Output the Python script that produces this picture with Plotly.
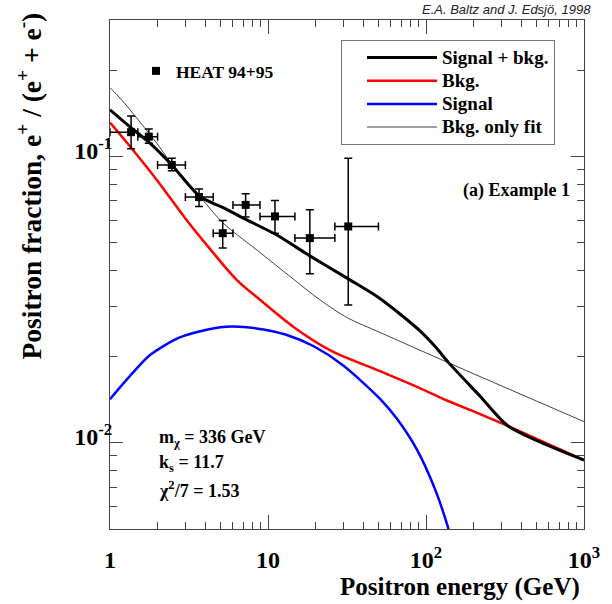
import math
import plotly.graph_objects as go

# ---------------- data ----------------
heat_E = [1.36, 1.76, 2.46, 3.66, 5.17, 7.22, 11.07, 18.4, 32.2]
heat_E_lo = [1.0, 1.5, 2.0, 3.0, 4.5, 6.0, 8.9, 14.8, 26.5]
heat_E_hi = [1.5, 2.0, 3.0, 4.5, 6.0, 8.9, 14.8, 26.5, 50.0]
heat_f = [0.1217, 0.1174, 0.0935, 0.0722, 0.0540, 0.0678, 0.0618, 0.0519, 0.0570]
heat_f_lo = [0.1064, 0.1114, 0.0892, 0.0669, 0.0479, 0.0615, 0.0540, 0.0390, 0.0303]
heat_f_hi = [0.1387, 0.1249, 0.0987, 0.0770, 0.0598, 0.0741, 0.0702, 0.0652, 0.0987]

sb_E = [1, 1.36, 1.79, 2.46, 3.71, 5.2, 7.34, 11.3, 18.4, 33, 48.8, 70, 91.6, 115, 138.5, 220, 332, 1000]
sb_f = [0.1456, 0.126, 0.1114, 0.0935, 0.0725, 0.0663, 0.0601, 0.0533, 0.045, 0.0371, 0.0325,
        0.0279, 0.0246, 0.0216, 0.0191, 0.01455, 0.01143, 0.0087]

bkg_E = [1, 1.34, 2, 3, 4.29, 6.33, 8.9, 14.8, 25, 51.2, 90, 138, 220, 332, 1000]
bkg_f = [0.1314, 0.1084, 0.0822, 0.0608, 0.0476, 0.0371, 0.0316, 0.0252, 0.021, 0.0178,
         0.0156, 0.014, 0.0126, 0.01143, 0.0087]

sig_E = [1, 1.36, 1.8, 2.74, 4.16, 5.9, 8.45, 12.9, 19.6, 29.8, 51.2, 65.3, 87.3, 114, 136, 150]
sig_f = [0.0142, 0.0173, 0.0203, 0.0233, 0.0249, 0.0255, 0.0251, 0.0239, 0.0217, 0.01867,
         0.01424, 0.01215, 0.0095, 0.00689, 0.00519, 0.00427]

fit_E = [1, 1.186, 1.975, 2.4, 3.71, 5.2, 8.45, 13.8, 21.3, 32, 51.2, 138, 340, 1000]
fit_f = [0.174, 0.1577, 0.1114, 0.0961, 0.0725, 0.0586, 0.0473, 0.0381, 0.0316, 0.0273, 0.0243,
         0.01906, 0.01535, 0.01186]

x_tickvals = [1, 10, 100, 1000]
x_ticktext = ["1", "10", "10<sup>2</sup>", "10<sup>3</sup>"]
y_tickvals = [0.01, 0.1]
y_ticktext = ["10<sup>-2</sup>", "10<sup>-1</sup>"]

# ---------------- figure ----------------
SERIF = "Liberation Serif, Times New Roman, serif"
L, R, T, B = 110, 28, 20, 75
PW, PH = 612 - L - R, 604 - T - B


def px(xp):
    return (xp - L) / PW


def py(yp):
    return (604 - B - yp) / PH


def big(s):
    return '<span style="font-size:19px">' + s + '</span>'


fig = go.Figure()
fig.add_trace(go.Scatter(x=sig_E, y=sig_f, mode="lines", name=big("Signal"),
                         line=dict(color="#0000ff", width=2.5, shape="spline", smoothing=0.8),
                         legendrank=3))
fig.add_trace(go.Scatter(x=bkg_E, y=bkg_f, mode="lines", name=big("Bkg."),
                         line=dict(color="#ff0000", width=2.5, shape="spline", smoothing=0.9),
                         legendrank=2))
fig.add_trace(go.Scatter(x=fit_E, y=fit_f, mode="lines", name=big("Bkg. only fit"),
                         line=dict(color="#111111", width=0.8, shape="spline", smoothing=0.9),
                         legendrank=4))
fig.add_trace(go.Scatter(x=sb_E, y=sb_f, mode="lines", name=big("Signal + bkg."),
                         line=dict(color="#000000", width=3, shape="spline", smoothing=0.7),
                         legendrank=1))

ex_plus = [h - e for h, e in zip(heat_E_hi, heat_E)]
ex_minus = [e - l for e, l in zip(heat_E, heat_E_lo)]
ey_plus = [h - f for h, f in zip(heat_f_hi, heat_f)]
ey_minus = [f - l for f, l in zip(heat_f, heat_f_lo)]
fig.add_trace(go.Scatter(x=heat_E, y=heat_f, mode="markers", name="HEAT 94+95",
                         marker=dict(symbol="square", size=8, color="black"),
                         error_x=dict(type="data", symmetric=False, array=ex_plus, arrayminus=ex_minus,
                                      color="black", thickness=1.5, width=4),
                         error_y=dict(type="data", symmetric=False, array=ey_plus, arrayminus=ey_minus,
                                      color="black", thickness=1.5, width=4),
                         legend="legend2"))

axis_common = dict(type="log", showgrid=False, zeroline=False, showline=True, linecolor="#444",
                   linewidth=1, mirror="ticks", ticks="inside", tickcolor="#444", tickwidth=1,
                   tickfont=dict(family=SERIF, size=24, color="black", weight="bold"))

fig.update_xaxes(range=[0, 3], tickvals=x_tickvals, ticktext=x_ticktext, ticklen=14,
                 ticklabelstandoff=9,
                 minor=dict(tickvals=[m * d for d in [1, 10, 100] for m in range(2, 10)],
                            ticks="inside", ticklen=7, tickcolor="#444", showgrid=False),
                 **axis_common)
fig.update_yaxes(range=[math.log10(0.005), math.log10(0.3)], tickvals=y_tickvals, ticktext=y_ticktext,
                 ticklen=13, ticklabelshift=-6, ticklabelstandoff=-8,
                 minor=dict(tickvals=[m * d for d in [0.001, 0.01, 0.1] for m in range(2, 10)],
                            ticks="inside", ticklen=7, tickcolor="#444", showgrid=False),
                 **axis_common)

fig.update_layout(
    width=612, height=604,
    margin=dict(l=L, r=R, t=T, b=B),
    paper_bgcolor="white", plot_bgcolor="white",
    font=dict(family=SERIF, color="black"),
    showlegend=True,
    legend=dict(x=px(341), y=py(40), xanchor="left", yanchor="top",
                bgcolor="white", bordercolor="#777", borderwidth=1,
                font=dict(family=SERIF, size=15.5, color="black", weight="bold"),
                itemwidth=70, indentation=20, tracegroupgap=0),
    legend2=dict(x=px(136), y=py(53), xanchor="left", yanchor="top",
                 bgcolor="rgba(0,0,0,0)", borderwidth=0,
                 font=dict(family=SERIF, size=17.5, color="black", weight="bold")),
)

ann_font = dict(family=SERIF, size=18, color="black", weight="bold")
fig.add_annotation(text="(a) Example 1", xref="paper", yref="paper", x=px(572), y=py(190),
                   xanchor="right", yanchor="middle", showarrow=False, font=ann_font)
fig.add_annotation(text="m<sub>χ</sub> = 336 GeV", xref="paper", yref="paper",
                   x=px(157), y=py(438), xanchor="left", yanchor="middle",
                   showarrow=False, font=ann_font)
fig.add_annotation(text="k<sub>s</sub> = 11.7", xref="paper", yref="paper",
                   x=px(157), y=py(463), xanchor="left", yanchor="middle",
                   showarrow=False, font=ann_font)
fig.add_annotation(text="χ<sup>2</sup>/7 = 1.53", xref="paper", yref="paper",
                   x=px(157), y=py(489), xanchor="left", yanchor="middle",
                   showarrow=False, font=ann_font)
fig.add_annotation(text="Positron energy (GeV)", xref="paper", yref="paper",
                   x=px(582), y=py(587), xanchor="right", yanchor="middle",
                   showarrow=False, font=dict(family=SERIF, size=25, color="black", weight="bold"))
fig.add_annotation(text="Positron fraction, e<sup>+</sup> / (e<sup>+</sup> + e<sup>-</sup>)",
                   xref="paper", yref="paper", textangle=-90,
                   x=px(30), y=py(11), xanchor="center", yanchor="top",
                   showarrow=False, font=dict(family=SERIF, size=27.5, color="black", weight="bold"))
fig.add_annotation(text="<i>E.A. Baltz and J. Edsjö, 1998</i>", xref="paper", yref="paper",
                   x=px(593), y=py(9), xanchor="right", yanchor="middle",
                   showarrow=False, font=dict(family="Liberation Sans, Arial, sans-serif", size=13,
                                              color="#222"))

fig.write_html("out.html", config={"displayModeBar": False},
               post_script="document.body.style.margin='0px';")
